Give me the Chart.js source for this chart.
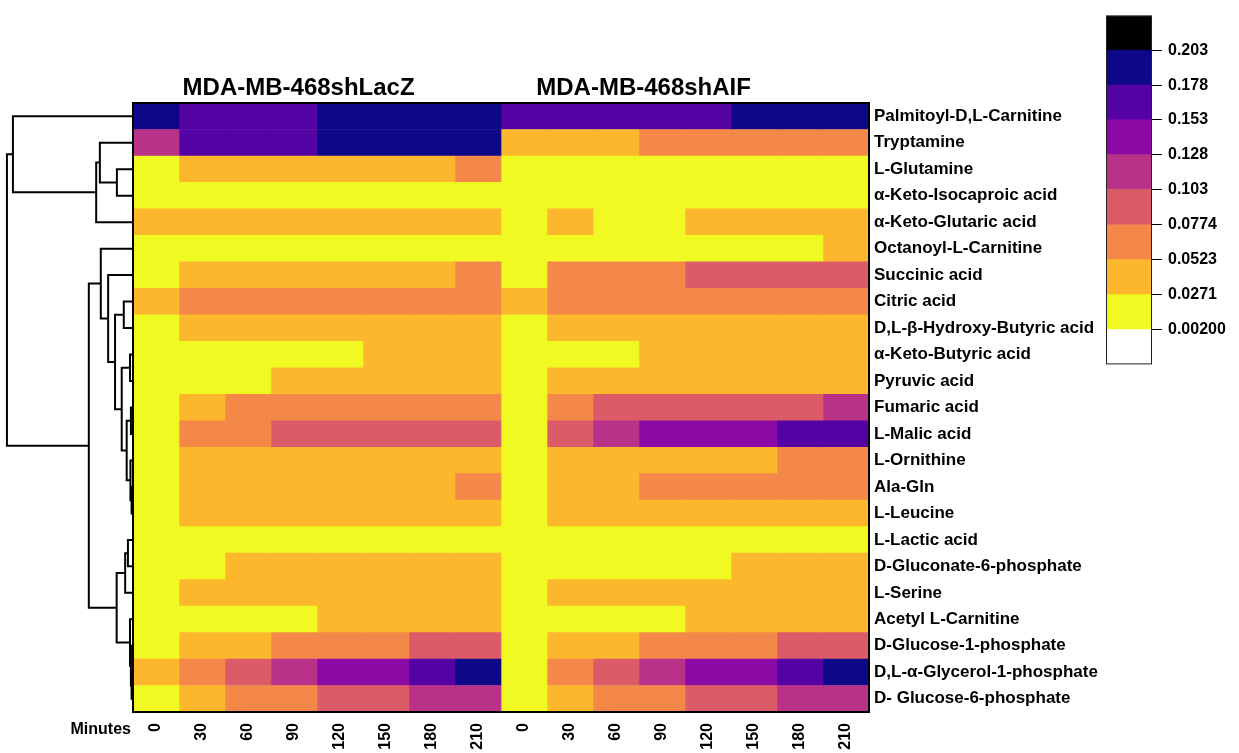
<!DOCTYPE html>
<html lang="en">
<head>
<meta charset="UTF-8" />
<title>Metabolite heatmap</title>
<script src="https://cdn.jsdelivr.net/npm/chart.js"></script>
<style>
  body { margin: 0; background: #fff; }
  #wrap { position: relative; width: 1239px; height: 753px; }
  #heat { position: absolute; left: 0; top: 0; width: 1239px; height: 753px; }
  #key { position: absolute; left: 1100px; top: 0; width: 139px; height: 380px; }
</style>
</head>
<body>
<div id="wrap">
  <div id="heat"><canvas id="heatChart"></canvas></div>
  <div id="key"><canvas id="keyChart"></canvas></div>
</div>
<script>
const FONT = '"Liberation Sans", Arial, sans-serif';

const groups = ["MDA-MB-468shLacZ", "MDA-MB-468shAIF"];
const minutes = ["0", "30", "60", "90", "120", "150", "180", "210"];

const metabolites = [
  "Palmitoyl-D,L-Carnitine", "Tryptamine", "L-Glutamine", "α-Keto-Isocaproic acid",
  "α-Keto-Glutaric acid", "Octanoyl-L-Carnitine", "Succinic acid", "Citric acid",
  "D,L-β-Hydroxy-Butyric acid", "α-Keto-Butyric acid", "Pyruvic acid", "Fumaric acid",
  "L-Malic acid", "L-Ornithine", "Ala-Gln", "L-Leucine", "L-Lactic acid",
  "D-Gluconate-6-phosphate", "L-Serine", "Acetyl L-Carnitine", "D-Glucose-1-phosphate",
  "D,L-α-Glycerol-1-phosphate", "D- Glucose-6-phosphate"
];

// one row per metabolite: 8 time points shLacZ, then 8 time points shAIF
const cellValues = [
  [0.186,0.171,0.168,0.174,0.183,0.188,0.192,0.195, 0.159,0.162,0.166,0.169,0.175,0.181,0.187,0.191],
  [0.112,0.161,0.166,0.173,0.182,0.189,0.193,0.197, 0.041,0.045,0.049,0.056,0.061,0.064,0.067,0.069],
  [0.012,0.036,0.041,0.044,0.047,0.049,0.051,0.055, 0.008,0.011,0.013,0.015,0.016,0.018,0.019,0.021],
  [0.006,0.009,0.012,0.014,0.016,0.018,0.020,0.022, 0.005,0.008,0.011,0.013,0.015,0.017,0.019,0.021],
  [0.034,0.038,0.040,0.043,0.045,0.047,0.049,0.050, 0.022,0.029,0.025,0.026,0.031,0.035,0.038,0.041],
  [0.004,0.006,0.008,0.010,0.012,0.015,0.018,0.021, 0.004,0.006,0.009,0.011,0.014,0.018,0.023,0.029],
  [0.019,0.034,0.039,0.043,0.046,0.049,0.051,0.056, 0.018,0.057,0.064,0.072,0.079,0.084,0.088,0.091],
  [0.045,0.058,0.062,0.065,0.068,0.070,0.072,0.073, 0.049,0.060,0.064,0.067,0.069,0.071,0.073,0.074],
  [0.013,0.031,0.035,0.038,0.041,0.043,0.045,0.047, 0.011,0.032,0.036,0.039,0.042,0.044,0.046,0.048],
  [0.010,0.015,0.019,0.022,0.025,0.029,0.032,0.035, 0.009,0.017,0.024,0.028,0.032,0.035,0.038,0.041],
  [0.011,0.017,0.024,0.030,0.034,0.038,0.041,0.044, 0.010,0.031,0.035,0.039,0.042,0.044,0.046,0.048],
  [0.016,0.047,0.055,0.060,0.064,0.067,0.070,0.072, 0.015,0.069,0.080,0.086,0.091,0.095,0.100,0.106],
  [0.018,0.057,0.071,0.081,0.086,0.090,0.094,0.098, 0.017,0.089,0.115,0.137,0.143,0.149,0.157,0.164],
  [0.014,0.036,0.040,0.043,0.045,0.047,0.049,0.051, 0.013,0.034,0.038,0.042,0.045,0.050,0.054,0.058],
  [0.013,0.035,0.039,0.042,0.045,0.048,0.051,0.054, 0.012,0.040,0.048,0.053,0.056,0.058,0.060,0.062],
  [0.012,0.032,0.036,0.039,0.041,0.043,0.045,0.047, 0.011,0.033,0.037,0.040,0.042,0.044,0.046,0.048],
  [0.005,0.009,0.012,0.015,0.017,0.019,0.021,0.023, 0.005,0.008,0.011,0.014,0.016,0.018,0.020,0.022],
  [0.009,0.024,0.029,0.033,0.036,0.039,0.042,0.045, 0.008,0.013,0.017,0.021,0.025,0.029,0.033,0.037],
  [0.010,0.030,0.034,0.037,0.040,0.043,0.046,0.049, 0.009,0.031,0.035,0.038,0.041,0.044,0.047,0.050],
  [0.008,0.014,0.019,0.024,0.029,0.033,0.037,0.041, 0.007,0.013,0.018,0.023,0.028,0.032,0.036,0.040],
  [0.014,0.041,0.050,0.060,0.068,0.074,0.080,0.088, 0.013,0.039,0.048,0.057,0.065,0.072,0.079,0.086],
  [0.043,0.064,0.089,0.118,0.139,0.151,0.168,0.185, 0.019,0.063,0.087,0.116,0.138,0.150,0.166,0.183],
  [0.016,0.045,0.060,0.071,0.084,0.095,0.109,0.121, 0.015,0.044,0.058,0.069,0.082,0.093,0.107,0.119]
];

// colour key
const colorBreaks = [0.002, 0.0271, 0.0523, 0.0774, 0.103, 0.128, 0.153, 0.178, 0.203];
const breakLabels = ["0.00200", "0.0271", "0.0523", "0.0774", "0.103", "0.128", "0.153", "0.178", "0.203"];
const palette = ["#FFFFFF", "#F0F921", "#FDB72D", "#F48849", "#DB5C68", "#B93289", "#8B0AA5", "#5402A3", "#0D0887", "#000000"];

// row dendrogram, hclust style: negative = leaf (1-based row), positive = earlier merge step
const mergeLeft  = [-3, -2, 2, -1, -8, -10, -12, -15, -14, 7, 6, 5, -7, -6, -17, 15, -22, -21, -20, 16, 14, 4];
const mergeRight = [-4, 1, -5, 3, -9, -11, -13, -16, 8, 9, 10, 11, 12, 13, -18, -19, -23, 17, 18, 19, 20, 21];
const mergeHeight = [0.35, 0.72, 0.80, 2.61, 0.20, 0.065, 0.045, 0.03, 0.055, 0.137, 0.245, 0.39, 0.54, 0.70,
                     0.11, 0.17, 0.03, 0.045, 0.065, 0.355, 0.96, 2.74];

function colorFor(v) {
  let k = 0;
  while (k < colorBreaks.length && v >= colorBreaks[k]) k++;
  return palette[k];
}

const nCols = groups.length * minutes.length;

// heatmap: one floating-bar dataset per column
const barSets = [];
for (let c = 0; c < nCols; c++) {
  barSets.push({
    type: "bar",
    data: metabolites.map((m, r) => ({ x: c + 0.5, y: [r, r + 1] })),
    backgroundColor: metabolites.map((m, r) => colorFor(cellValues[r][c])),
    borderWidth: 0,
    grouped: false,
    barPercentage: 1,
    categoryPercentage: 1
  });
}

// dendrogram segments
const nodeY = [], nodeH = [];
function childPos(id) {
  if (id < 0) return { y: -id - 1 + 0.5, h: 0 };
  return { y: nodeY[id - 1], h: nodeH[id - 1] };
}
const dendroPts = [];
mergeLeft.forEach((a, i) => {
  const A = childPos(a), B = childPos(mergeRight[i]), h = mergeHeight[i];
  nodeY.push((A.y + B.y) / 2);
  nodeH.push(h);
  dendroPts.push({ x: -A.h, y: A.y }, { x: -h, y: A.y }, { x: -h, y: B.y }, { x: -B.h, y: B.y }, { x: null, y: null });
});

const heatLabels = {
  id: "heatLabels",
  afterDraw(chart) {
    const { ctx, scales: { x, y } } = chart;
    const l = x.getPixelForValue(0), r = x.getPixelForValue(nCols);
    const t = y.getPixelForValue(0), b = y.getPixelForValue(metabolites.length);
    ctx.save();
    ctx.strokeStyle = "#000";
    ctx.lineWidth = 2;
    ctx.strokeRect(l, t, r - l, b - t);

    ctx.fillStyle = "#000";
    ctx.font = "bold 17px " + FONT;
    ctx.textAlign = "left";
    ctx.textBaseline = "middle";
    metabolites.forEach((name, i) => ctx.fillText(name, r + 5, y.getPixelForValue(i + 0.5)));

    ctx.font = "bold 24px " + FONT;
    ctx.textAlign = "center";
    groups.forEach((g, gi) => ctx.fillText(g, x.getPixelForValue(gi * minutes.length + 3.6 - gi * 0.5), t - 15));

    ctx.font = "bold 16px " + FONT;
    ctx.textAlign = "right";
    ctx.fillText("Minutes", l - 2, b + 18);
    for (let c = 0; c < nCols; c++) {
      ctx.save();
      ctx.translate(x.getPixelForValue(c + 0.5), b + 11);
      ctx.rotate(-Math.PI / 2);
      ctx.textAlign = "right";
      ctx.textBaseline = "middle";
      ctx.fillText(minutes[c % minutes.length], 0, 0);
      ctx.restore();
    }
    ctx.restore();
  }
};

new Chart(document.getElementById("heatChart"), {
  type: "bar",
  data: {
    datasets: [
      ...barSets,
      {
        type: "line",
        data: dendroPts,
        borderColor: "#000",
        borderWidth: 2,
        pointRadius: 0,
        fill: false,
        tension: 0,
        spanGaps: false
      }
    ]
  },
  options: {
    responsive: true,
    maintainAspectRatio: false,
    animation: false,
    layout: { padding: { left: 4, right: 370, top: 103, bottom: 41 } },
    plugins: { legend: { display: false }, tooltip: { enabled: false } },
    scales: {
      x: { type: "linear", min: -2.804, max: nCols, offset: false, display: false },
      y: { type: "linear", min: 0, max: metabolites.length, reverse: true, offset: false, display: false }
    }
  },
  plugins: [heatLabels]
});

// colour key as its own small chart
const step = colorBreaks[1] - colorBreaks[0];
const keyLow = [colorBreaks[0] - step, ...colorBreaks];
const keyHigh = [...colorBreaks, colorBreaks[colorBreaks.length - 1] + step];

const keyBox = {
  id: "keyBox",
  afterDraw(chart) {
    const { ctx, chartArea: a } = chart;
    ctx.save();
    ctx.strokeStyle = "#222";
    ctx.lineWidth = 1;
    ctx.strokeRect(a.left + 0.5, a.top + 0.5, a.right - a.left - 1, a.bottom - a.top - 1);
    ctx.restore();
  }
};

new Chart(document.getElementById("keyChart"), {
  type: "bar",
  data: {
    labels: ["key"],
    datasets: palette.map((col, i) => ({
      data: [[keyLow[i], keyHigh[i]]],
      backgroundColor: col,
      borderWidth: 0,
      grouped: false,
      barPercentage: 1,
      categoryPercentage: 1
    }))
  },
  options: {
    responsive: true,
    maintainAspectRatio: false,
    animation: false,
    layout: { padding: { left: 6, top: 13, bottom: 14, right: 0 } },
    plugins: { legend: { display: false }, tooltip: { enabled: false } },
    scales: {
      x: { display: false },
      y: {
        position: "right",
        min: keyLow[0],
        max: keyHigh[keyHigh.length - 1],
        afterBuildTicks: (scale) => { scale.ticks = colorBreaks.map((v) => ({ value: v })); },
        afterFit: (scale) => { scale.width = 87; },
        grid: { drawOnChartArea: false, drawTicks: true, tickLength: 10, tickColor: "#000", tickWidth: 1 },
        border: { display: false },
        ticks: {
          color: "#000",
          padding: 6,
          font: { family: FONT, size: 16, weight: "bold" },
          callback: (v, i) => breakLabels[i]
        }
      }
    }
  },
  plugins: [keyBox]
});
</script>
</body>
</html>
